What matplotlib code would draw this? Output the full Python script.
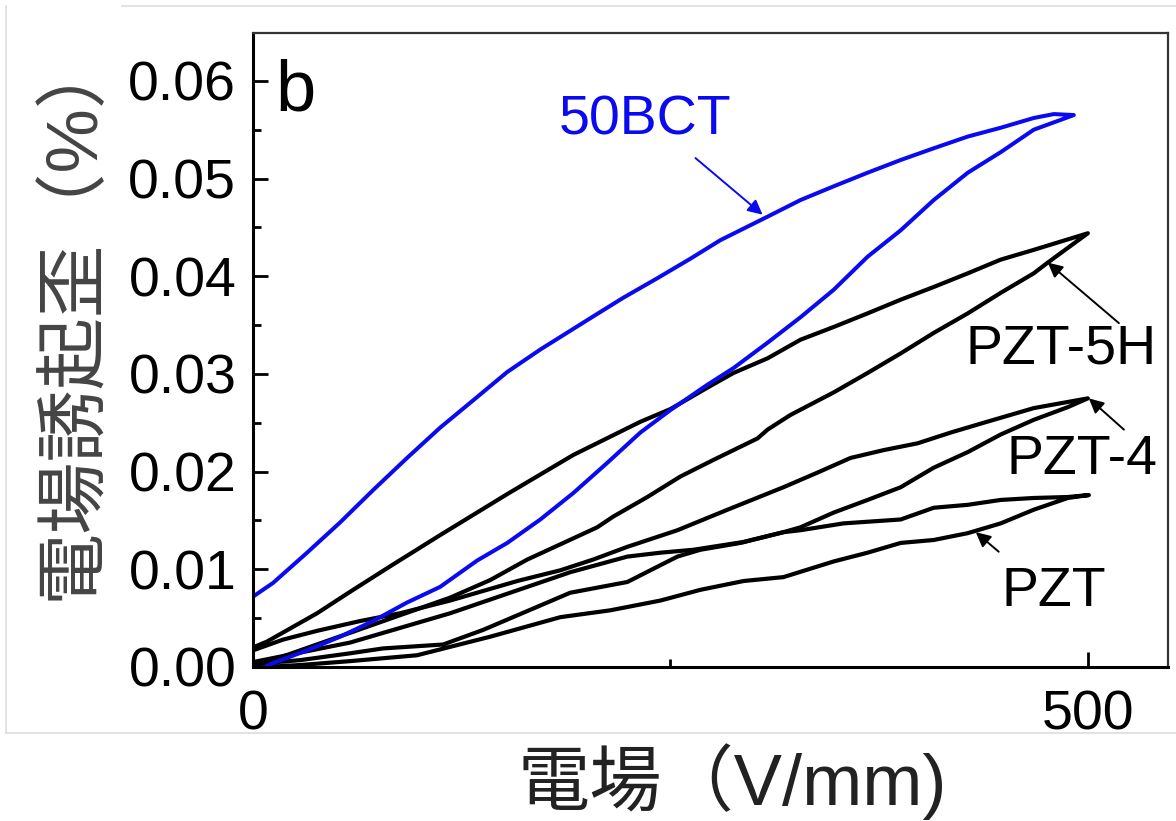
import matplotlib
matplotlib.use("Agg")
import matplotlib.pyplot as plt
from matplotlib.lines import Line2D
from matplotlib.ticker import MultipleLocator, FormatStrFormatter

plt.rcParams['font.family'] = ['Liberation Sans', 'Noto Sans CJK JP', 'DejaVu Sans']

# field (V/mm) and strain (%); upper branch goes 0 -> 500,
# lower branch goes back 500 -> 0
bct_up_e = [0, 12.0, 32.4, 52.2, 71.9, 92.3, 112.1, 131.9, 152.3, 172.1, 202.0, 221.8, 242.2,
            262.0, 280.0, 308.2, 327.9, 347.7, 368.1, 387.9, 407.7, 428.1, 447.8, 467.6, 479.6, 491.6]
bct_up_s = [0.0072, 0.0086, 0.0117, 0.0148, 0.0181, 0.0214, 0.0245, 0.0273, 0.0302, 0.0325, 0.0357,
            0.0378, 0.0398, 0.0418, 0.0437, 0.0461, 0.0478, 0.0492, 0.0506, 0.0519, 0.0531, 0.0543,
            0.0552, 0.0562, 0.0566, 0.0565]
bct_lo_e = [491.6, 467.6, 447.8, 428.1, 407.7, 387.9, 368.1, 347.7, 327.9, 308.2, 287.8, 272.2, 250.0,
            232.0, 212.2, 191.8, 172.1, 152.3, 134.3, 112.1, 92.3, 71.9, 52.2, 32.4, 12.0, 7.2]
bct_lo_s = [0.0565, 0.0550, 0.0527, 0.0506, 0.0478, 0.0447, 0.0420, 0.0386, 0.0358, 0.0332, 0.0306,
            0.0289, 0.0263, 0.0240, 0.0209, 0.0178, 0.0151, 0.0127, 0.0109, 0.0082, 0.0066, 0.0047,
            0.0031, 0.0017, 0.0004, 0.0]

pzt5h_up_e = [0, 8.4, 38.4, 58.2, 82.1, 112.1, 152.3, 191.8, 232.0, 250.0, 272.2, 287.8, 308.2,
              327.9, 347.7, 368.1, 387.9, 407.7, 428.1, 447.8, 467.6, 500.0]
pzt5h_up_s = [0.0020, 0.0026, 0.0055, 0.0077, 0.0103, 0.0135, 0.0177, 0.0217, 0.0251, 0.0264, 0.0286,
              0.0301, 0.0316, 0.0335, 0.0348, 0.0362, 0.0376, 0.0389, 0.0403, 0.0417, 0.0427, 0.0444]
pzt5h_lo_e = [500.0, 476.0, 467.6, 447.8, 428.1, 407.7, 387.9, 368.1, 347.7, 321.9, 308.2, 302.2,
              275.8, 256.0, 236.2, 215.8, 206.2, 185.9, 164.3, 142.1, 118.1, 88.1, 58.2, 28.2, 0]
pzt5h_lo_s = [0.0444, 0.0414, 0.0403, 0.0383, 0.0362, 0.0342, 0.0321, 0.0301, 0.0281, 0.0258, 0.0243,
              0.0234, 0.0212, 0.0195, 0.0174, 0.0154, 0.0143, 0.0127, 0.0110, 0.0089, 0.0071, 0.0053,
              0.0035, 0.0017, 0.0]

pzt4_up_e = [0, 18.0, 38.4, 64.1, 88.1, 118.1, 158.3, 184.1, 203.8, 224.2, 254.2, 284.2, 317.7,
             338.1, 357.9, 377.7, 398.1, 417.9, 437.6, 467.6, 500.0]
pzt4_up_s = [0.0017, 0.0028, 0.0037, 0.0047, 0.0055, 0.0068, 0.0088, 0.0099, 0.0110, 0.0123, 0.0140,
             0.0161, 0.0184, 0.0199, 0.0214, 0.0222, 0.0229, 0.0240, 0.0250, 0.0265, 0.0275]
pzt4_lo_e = [500.0, 488.0, 467.6, 447.8, 428.1, 407.7, 387.9, 368.1, 347.7, 327.9, 317.7, 293.8,
             263.8, 244.0, 224.2, 190.0, 118.1, 58.2, 0]
pzt4_lo_s = [0.0275, 0.0266, 0.0253, 0.0238, 0.0220, 0.0204, 0.0184, 0.0171, 0.0158, 0.0143, 0.0138,
             0.0128, 0.0120, 0.0117, 0.0113, 0.0097, 0.0055, 0.0025, 0.0005]

pzt_up_e = [0, 28.2, 58.2, 77.9, 113.9, 137.9, 190.0, 224.2, 254.2, 268.0, 292.0, 317.7, 327.9,
            353.7, 387.9, 407.7, 428.1, 447.8, 467.6, 488.0, 500.6]
pzt_up_s = [0.0003, 0.0007, 0.0014, 0.0019, 0.0023, 0.0038, 0.0076, 0.0087, 0.0113, 0.0120, 0.0127,
            0.0138, 0.0140, 0.0147, 0.0151, 0.0163, 0.0166, 0.0171, 0.0173, 0.0174, 0.0176]
pzt_lo_e = [500.6, 488.0, 467.6, 447.8, 428.1, 407.7, 387.9, 368.1, 347.7, 317.7, 293.8, 268.0,
            244.0, 214.0, 184.1, 142.1, 112.1, 98.3, 58.2, 28.2, 7.2]
pzt_lo_s = [0.0176, 0.0173, 0.0161, 0.0147, 0.0137, 0.0130, 0.0127, 0.0117, 0.0108, 0.0092, 0.0088,
            0.0079, 0.0068, 0.0058, 0.0051, 0.0031, 0.0018, 0.0012, 0.0006, 0.0002, 0.0]

# sample names, label centres and arrows (tail -> tip), in data units
names = ["50BCT", "PZT-5H", "PZT-4", "PZT"]
label_xy = [(235.0, 0.0559), (484.0, 0.0325), (496.4, 0.0212), (479.6, 0.0077)]
arrow_tail = [(265.0, 0.0521), (518.6, 0.0352), (521.6, 0.0243), (446.6, 0.0118)]
arrow_tip = [(305.2, 0.0463), (476.0, 0.0414), (500.6, 0.0275), (432.9, 0.0138)]

BLUE = "#0a0af0"

fig = plt.figure(figsize=(11.76, 8.21), dpi=100)
ax = fig.add_axes([0.2151, 0.1876, 0.7781, 0.7722])

# Loops
ax.plot(pzt5h_up_e + pzt5h_lo_e, pzt5h_up_s + pzt5h_lo_s, color="black", lw=3.0, solid_joinstyle="round")
ax.plot(pzt4_up_e + pzt4_lo_e, pzt4_up_s + pzt4_lo_s, color="black", lw=3.0, solid_joinstyle="round")
ax.plot(pzt_up_e + pzt_lo_e, pzt_up_s + pzt_lo_s, color="black", lw=3.0, solid_joinstyle="round")
ax.plot(bct_up_e + bct_lo_e, bct_up_s + bct_lo_s, color=BLUE, lw=2.9, solid_joinstyle="round")

# Labels with arrows
for i, name in enumerate(names):
    c = BLUE if name == "50BCT" else "black"
    ax.text(label_xy[i][0], label_xy[i][1], name, color=c, fontsize=40,
            ha="center", va="center", family="Liberation Sans")
    ax.annotate("", xy=arrow_tip[i], xytext=arrow_tail[i],
                arrowprops=dict(arrowstyle="-|>", color=c, lw=1.4, mutation_scale=22,
                                shrinkA=0, shrinkB=0))

ax.text(0.024, 0.8785, "b", transform=ax.transAxes, fontsize=52, ha="left", va="baseline")

# Axes formatting
ax.set_xlim(0, 548)
ax.set_ylim(0, 0.0649)
ax.set_xticks([0, 500])
ax.xaxis.set_minor_locator(MultipleLocator(250))
ax.yaxis.set_major_locator(MultipleLocator(0.01))
ax.yaxis.set_minor_locator(MultipleLocator(0.005))
ax.yaxis.set_major_formatter(FormatStrFormatter("%.2f"))
ax.tick_params(which="major", direction="in", length=11, width=2, labelsize=40,
               top=False, right=False)
ax.tick_params(which="minor", direction="in", length=6, width=2, top=False, right=False)
ax.tick_params(axis="y", pad=12)
ax.tick_params(axis="x", pad=16)

ax.spines["left"].set_linewidth(2.2)
ax.spines["bottom"].set_linewidth(2.2)
ax.spines["top"].set_linewidth(1.6)
ax.spines["right"].set_linewidth(1.6)
ax.spines["top"].set_color("#333333")
ax.spines["right"].set_color("#333333")

ax.set_xlabel("電場（V/mm)", fontsize=52, color="#222222")
ax.xaxis.set_label_coords(0.5235, -0.1814)
ax.xaxis.label.set_va("center")
ax.set_ylabel("電場誘起歪（%）", fontsize=52, color="#444444")
ax.yaxis.set_label_coords(-0.196, 0.556)
ax.yaxis.label.set_va("center")

# faint screenshot border
fig.add_artist(Line2D([6 / 1176, 6 / 1176], [1 - 6 / 821, 1 - 733 / 821], color="#dddddd", lw=1.2))
fig.add_artist(Line2D([6 / 1176, 1], [1 - 733 / 821, 1 - 733 / 821], color="#dddddd", lw=1.2))
fig.add_artist(Line2D([122 / 1176, 1], [1 - 6 / 821, 1 - 6 / 821], color="#dddddd", lw=1.2))

fig.savefig("out.png", dpi=100)
